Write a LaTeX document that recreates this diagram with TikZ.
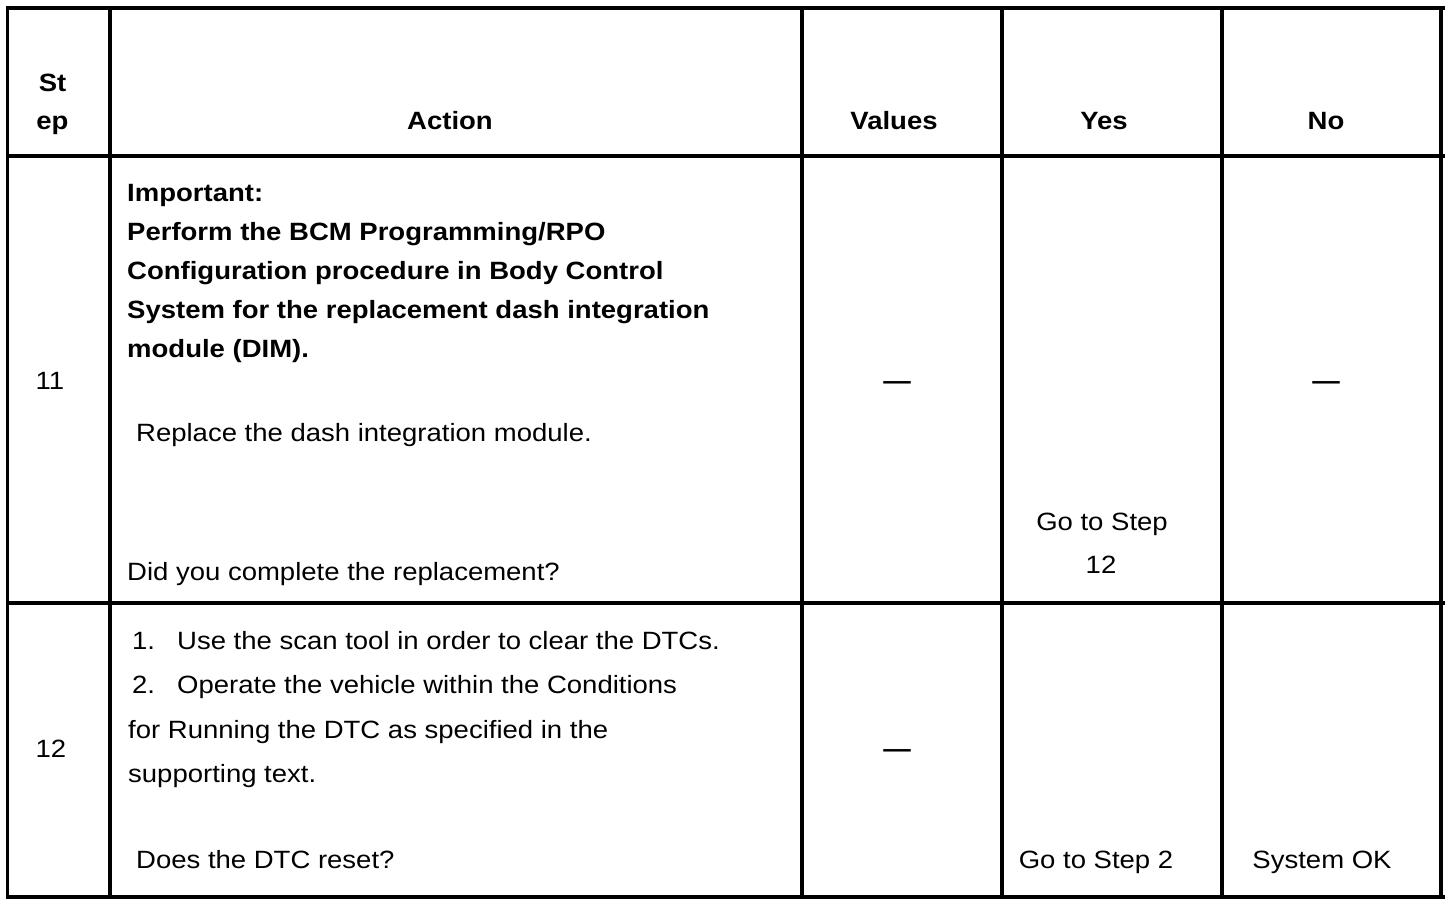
\documentclass[tikz,border=0pt]{standalone}
\usepackage{fontspec}
\setmainfont{Liberation Sans}[FakeStretch=1.1]
\begin{document}
\begin{tikzpicture}[x=1pt,y=-1pt,
  grid/.style={line width=3.5pt,black},
  txt/.style={inner sep=0pt,font=\fontsize{25}{39}\selectfont},
  lt/.style={txt,anchor=base west},
  ct/.style={txt,anchor=base},
  bt/.style={txt,anchor=base,font=\fontsize{25}{39}\selectfont\bfseries},
  blt/.style={txt,anchor=base west,font=\fontsize{25}{39}\selectfont\bfseries},
  dsh/.style={txt,anchor=center}]
\useasboundingbox (0,0) rectangle (1456,908);
% grid
\foreach \yy in {8,156,603,897} \draw[grid] (6,\yy) -- (1445,\yy);
\foreach \xx in {7.5,110,802,1002,1222,1441} \draw[grid] (\xx,6) -- (\xx,899);
% header
\node[bt] (hst) at (52.5,91) {St};
\node[bt] (hep) at (52.5,129) {ep};
\node[bt] (hact) at (450,129) {Action};
\node[bt] (hval) at (894,129) {Values};
\node[bt] (hyes) at (1104,129) {Yes};
\node[bt] (hno) at (1326,129) {No};
% row 11
\node[ct] (s11) at (50,389) {11};
\node[blt] (a1) at (127,201) {Important:};
\node[blt] (a2) at (127,240) {Perform the BCM Programming/RPO};
\node[blt] (a3) at (127,279) {Configuration procedure in Body Control};
\node[blt] (a4) at (127,318) {System for the replacement dash integration};
\node[blt] (a5) at (127,357) {module (DIM).};
\node[lt] (a6) at (136,441.5) {Replace the dash integration module.};
\node[lt] (a7) at (127,580) {Did you complete the replacement?};
\node[dsh] (v11) at (897,385.5) {\bfseries —};
\node[ct] (y11a) at (1102,530) {Go to Step};
\node[ct] (y11b) at (1101,573.5) {12};
\node[dsh] (n11) at (1326,385.5) {\bfseries —};
% row 12
\node[ct] (s12) at (51,757) {12};
\node[lt] (b1n) at (132,649) {1.};
\node[lt] (b1) at (177,649) {Use the scan tool in order to clear the DTCs.};
\node[lt] (b2n) at (132,693) {2.};
\node[lt] (b2) at (177,693) {Operate the vehicle within the Conditions};
\node[lt] (b3) at (128,738) {for Running the DTC as specified in the};
\node[lt] (b4) at (128,782) {supporting text.};
\node[lt] (b5) at (136,868) {Does the DTC reset?};
\node[dsh] (v12) at (897,753.5) {\bfseries —};
\node[ct] (y12) at (1096,868) {Go to Step 2};
\node[ct] (n12) at (1322,868) {System OK};
\end{tikzpicture}
\end{document}
